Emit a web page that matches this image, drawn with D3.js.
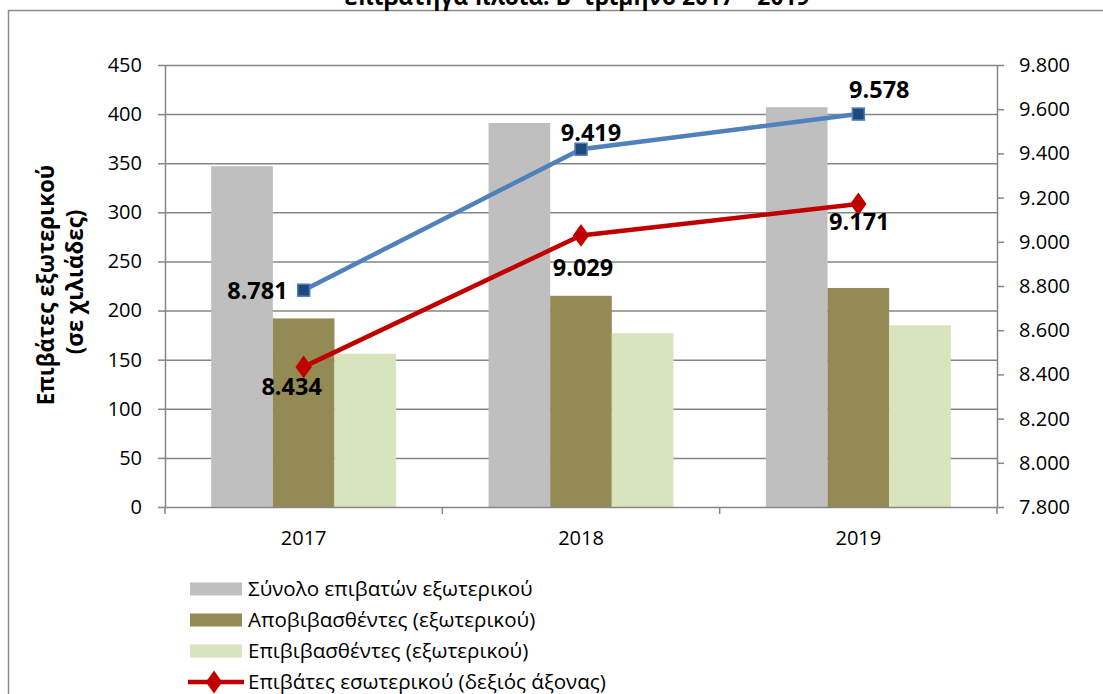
<!DOCTYPE html>
<html>
<head>
<meta charset="utf-8">
<script src="https://cdn.jsdelivr.net/npm/d3@7"></script>
<style>
  body { margin: 0; background: #fff; }
  svg { display: block; font-family: "Open Sans", sans-serif; }
  .axis path, .axis line { stroke: #868686; stroke-width: 1.5; }
  .axis text { font-family: "Open Sans", sans-serif; font-size: 20px; fill: #000; }
  .grid line { stroke: #868686; stroke-width: 1.5; }
  .grid path { display: none; }
</style>
</head>
<body>
<svg width="1103" height="694"></svg>
<script>

  // DATA

  var years = ["2017", "2018", "2019"];
  var barSeries = ["Σύνολο επιβατών εξωτερικού", "Αποβιβασθέντες (εξωτερικού)", "Επιβιβασθέντες (εξωτερικού)"];
  var totalAbroad = [347, 391, 407];
  var disembarked = [192, 215, 223];
  var embarked = [156, 177, 185];
  var domesticSeries = "Επιβάτες εσωτερικού (δεξιός άξονας)";
  var domestic = [8434, 9029, 9171];
  var blueLine = [8781, 9419, 9578];
  var leftTicks = [0, 50, 100, 150, 200, 250, 300, 350, 400, 450];
  var rightTicks = [7800, 8000, 8200, 8400, 8600, 8800, 9000, 9200, 9400, 9600, 9800];

  // SETUP

  var svg = d3.select("svg"),
    margin = { top: 65, right: 106, bottom: 187, left: 165 },
    width = 1103 - margin.left - margin.right,
    height = 694 - margin.top - margin.bottom;

  var gr = d3.formatLocale({ decimal: ",", thousands: ".", grouping: [3], currency: ["", "€"] }),
    fmt = gr.format(",d");

  var barColors = ["#bfbfbf", "#948a54", "#d7e4bd"];
  var barData = [totalAbroad, disembarked, embarked];

  var x0 = d3.scaleBand().domain(years).range([0, width]).padding(0);
  var x1 = d3.scaleBand().domain(d3.range(barSeries.length)).range([0, x0.bandwidth()])
    .paddingInner(0).paddingOuter(0.75);
  var y = d3.scaleLinear().domain([0, 450]).range([height, 0]);
  var y2 = d3.scaleLinear().domain([7800, 9800]).range([height, 0]);

  // chart frame (title sits above it, cut by the page edge as in the source)
  svg.append("rect")
    .attr("x", 8.5).attr("y", 10.5)
    .attr("width", 1200).attr("height", 800)
    .attr("fill", "none")
    .attr("stroke", "#8c8c8c")
    .attr("stroke-width", 1.5);

  svg.append("text")
    .attr("x", 577).attr("y", 5)
    .attr("text-anchor", "middle")
    .attr("font-weight", "bold")
    .attr("font-size", 22.8)
    .text("επιβατηγά πλοία: Β' τρίμηνο 2017 – 2019");

  var g = svg.append("g")
    .attr("transform", "translate(" + margin.left + "," + margin.top + ")");

  // GRID

  g.append("g")
    .attr("class", "grid")
    .call(d3.axisLeft(y).tickValues(leftTicks.slice(1)).tickSize(-width).tickFormat(""));

  // BARS

  var groups = g.selectAll(".year")
    .data(years)
    .enter().append("g")
    .attr("class", "year")
    .attr("transform", function (d) { return "translate(" + x0(d) + ",0)"; });

  groups.selectAll("rect")
    .data(function (d, i) { return barData.map(function (s, k) { return { k: k, v: s[i] }; }); })
    .enter().append("rect")
    .attr("x", function (d) { return x1(d.k); })
    .attr("y", function (d) { return y(d.v); })
    .attr("width", x1.bandwidth())
    .attr("height", function (d) { return height - y(d.v); })
    .attr("fill", function (d) { return barColors[d.k]; });

  // AXES

  var xAxis = g.append("g")
    .attr("class", "axis axis--x")
    .attr("transform", "translate(0," + height + ")")
    .call(d3.axisBottom(x0).tickSize(0).tickPadding(24));

  // category boundary ticks
  xAxis.selectAll(".bound")
    .data(years.map(function (d) { return x0(d); }).concat([x0.range()[1]]))
    .enter().append("line")
    .attr("class", "bound")
    .attr("x1", function (d) { return d; })
    .attr("x2", function (d) { return d; })
    .attr("y1", 0).attr("y2", 7);

  g.append("g")
    .attr("class", "axis axis--y")
    .call(d3.axisLeft(y).tickValues(leftTicks).tickSize(7).tickPadding(16).tickSizeOuter(0));

  g.append("g")
    .attr("class", "axis axis--y2")
    .attr("transform", "translate(" + width + ",0)")
    .call(d3.axisRight(y2).tickValues(rightTicks).tickSize(7).tickPadding(15).tickSizeOuter(0).tickFormat(fmt));

  g.selectAll(".axis").attr("font-family", null).attr("font-size", null);

  // axis title
  var yTitle = g.append("text")
    .attr("transform", "rotate(-90)")
    .attr("text-anchor", "middle")
    .attr("font-weight", "bold")
    .attr("font-size", 22.3);
  yTitle.append("tspan").attr("x", -height / 2 + 1).attr("y", 54 - margin.left).text("Επιβάτες εξωτερικού");
  yTitle.append("tspan").attr("x", -height / 2 + 4).attr("y", 83 - margin.left).text("(σε χιλιάδες)");

  // LINES

  var cx = function (i) { return x0(years[i]) + x0.bandwidth() / 2; };
  var line = d3.line()
    .x(function (d, i) { return cx(i); })
    .y(function (d) { return y2(d); });

  g.append("path")
    .datum(domestic)
    .attr("fill", "none")
    .attr("stroke", "#c00000")
    .attr("stroke-width", 4.5)
    .attr("d", line);

  g.selectAll(".dia")
    .data(domestic)
    .enter().append("path")
    .attr("class", "dia")
    .attr("d", d3.symbol(d3.symbolDiamond, 150))
    .attr("transform", function (d, i) { return "translate(" + cx(i) + "," + y2(d) + ") scale(1.25,1)"; })
    .attr("fill", "#c00000");

  g.append("path")
    .datum(blueLine)
    .attr("fill", "none")
    .attr("stroke", "#4f81bd")
    .attr("stroke-width", 4.5)
    .attr("d", line);

  g.selectAll(".sq")
    .data(blueLine)
    .enter().append("rect")
    .attr("class", "sq")
    .attr("x", function (d, i) { return cx(i) - 6; })
    .attr("y", function (d) { return y2(d) - 6; })
    .attr("width", 12).attr("height", 12)
    .attr("fill", "#1f497d")
    .attr("stroke", "#4f81bd")
    .attr("stroke-width", 1.5);

  // DATA LABELS (offsets as placed in the original)

  var blueLabelPos = [[-16, 0, "end"], [10, -17, "middle"], [21, -25, "middle"]];
  var redLabelPos = [[-12, 20, "middle"], [2, 32, "middle"], [1, 18, "middle"]];

  function labels(values, pos) {
    g.append("g").selectAll("text")
      .data(values)
      .enter().append("text")
      .attr("x", function (d, i) { return cx(i) + pos[i][0]; })
      .attr("y", function (d, i) { return y2(d) + pos[i][1]; })
      .attr("dy", "0.36em")
      .attr("text-anchor", function (d, i) { return pos[i][2]; })
      .attr("font-weight", "bold")
      .attr("font-size", 23.5)
      .text(fmt);
  }
  labels(blueLine, blueLabelPos);
  labels(domestic, redLabelPos);

  // LEGEND

  var legend = svg.append("g").attr("transform", "translate(190,589)");
  var rowH = 31;

  barSeries.forEach(function (s, k) {
    legend.append("rect")
      .attr("x", 0).attr("y", k * rowH - 6.5)
      .attr("width", 52).attr("height", 13)
      .attr("fill", barColors[k]);
    legend.append("text")
      .attr("x", 58).attr("y", k * rowH)
      .attr("dy", "0.35em")
      .attr("font-size", 20.6)
      .text(s);
  });

  var ly = barSeries.length * rowH;
  legend.append("line")
    .attr("x1", -2).attr("x2", 54)
    .attr("y1", ly).attr("y2", ly)
    .attr("stroke", "#c00000").attr("stroke-width", 4.5);
  legend.append("path")
    .attr("d", d3.symbol(d3.symbolDiamond, 150))
    .attr("transform", "translate(24," + ly + ") scale(1.25,1)")
    .attr("fill", "#c00000");
  legend.append("text")
    .attr("x", 58).attr("y", ly)
    .attr("dy", "0.35em")
    .attr("font-size", 20.6)
    .text(domesticSeries);

</script>
</body>
</html>
